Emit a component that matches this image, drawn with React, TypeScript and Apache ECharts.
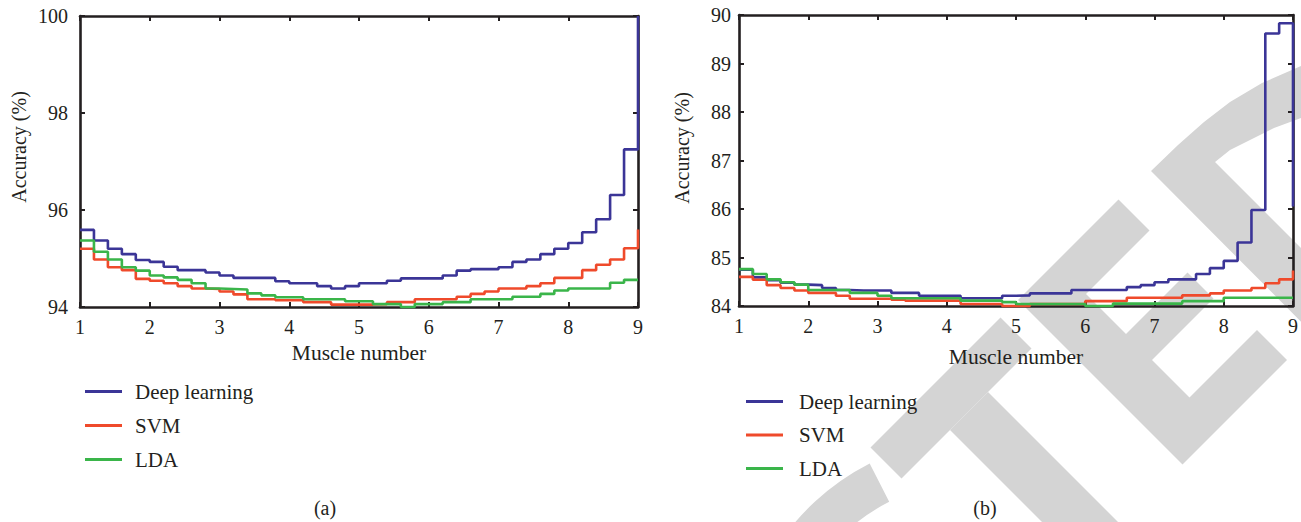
import React, { useEffect, useRef } from "react";
import * as echarts from "echarts";

// Muscle number positions (stairs sampling)
const muscleX = [
  1, 1.2, 1.4, 1.6, 1.8, 2, 2.2, 2.4, 2.6, 2.8, 3, 3.2, 3.4, 3.6, 3.8, 4, 4.2, 4.4, 4.6, 4.8,
  5, 5.2, 5.4, 5.6, 5.8, 6, 6.2, 6.4, 6.6, 6.8, 7, 7.2, 7.4, 7.6, 7.8, 8, 8.2, 8.4, 8.6, 8.8, 9,
];

const seriesNames = ["Deep learning", "SVM", "LDA"];
const xTicks = [1, 2, 3, 4, 5, 6, 7, 8, 9];

// Panel (a)
const deepA = [
  95.59, 95.37, 95.2, 95.09, 94.97, 94.93, 94.83, 94.76, 94.76, 94.71, 94.65, 94.6, 94.6, 94.6,
  94.53, 94.49, 94.49, 94.43, 94.38, 94.43, 94.49, 94.49, 94.54, 94.59, 94.59, 94.59, 94.65,
  94.75, 94.78, 94.78, 94.82, 94.93, 94.98, 95.09, 95.2, 95.32, 95.54, 95.81, 96.31, 97.25, 100,
];
const svmA = [
  95.2, 94.98, 94.82, 94.76, 94.58, 94.54, 94.49, 94.43, 94.38, 94.37, 94.32, 94.26, 94.16,
  94.16, 94.14, 94.14, 94.1, 94.1, 94.05, 94.05, 94.05, 94.06, 94.1, 94.1, 94.16, 94.16, 94.16,
  94.21, 94.27, 94.32, 94.38, 94.38, 94.43, 94.49, 94.6, 94.6, 94.76, 94.87, 94.98, 95.21, 95.6,
];
const ldaA = [
  95.37, 95.14, 94.98, 94.82, 94.75, 94.65, 94.61, 94.56, 94.49, 94.38, 94.37, 94.36, 94.28,
  94.24, 94.2, 94.2, 94.16, 94.16, 94.16, 94.12, 94.12, 94.06, 94.06, 94.0, 94.06, 94.06, 94.1,
  94.1, 94.16, 94.16, 94.16, 94.21, 94.21, 94.27, 94.34, 94.38, 94.38, 94.38, 94.5, 94.56, 94.56,
];

// Panel (b)
const deepB = [
  84.75, 84.59, 84.53, 84.48, 84.44, 84.43, 84.37, 84.33, 84.32, 84.32, 84.32, 84.27, 84.27,
  84.21, 84.21, 84.21, 84.16, 84.16, 84.16, 84.21, 84.22, 84.26, 84.26, 84.26, 84.33, 84.33,
  84.33, 84.33, 84.39, 84.43, 84.49, 84.55, 84.55, 84.66, 84.78, 84.93, 85.31, 85.98, 89.62,
  89.83, 86.05,
];
const svmB = [
  84.6, 84.54, 84.43, 84.37, 84.32, 84.27, 84.27, 84.21, 84.15, 84.15, 84.15, 84.13, 84.11,
  84.11, 84.11, 84.11, 84.04, 84.04, 84.04, 84.0, 84.0, 84.04, 84.04, 84.04, 84.04, 84.1, 84.1,
  84.1, 84.17, 84.17, 84.17, 84.17, 84.22, 84.22, 84.26, 84.32, 84.32, 84.37, 84.47, 84.55, 84.73,
];
const ldaB = [
  84.76, 84.66, 84.55, 84.49, 84.44, 84.33, 84.33, 84.33, 84.27, 84.27, 84.21, 84.16, 84.16,
  84.16, 84.16, 84.16, 84.11, 84.11, 84.11, 84.08, 84.04, 84.04, 84.04, 84.04, 84.04, 84.0, 84.0,
  84.05, 84.05, 84.05, 84.05, 84.05, 84.1, 84.1, 84.1, 84.17, 84.17, 84.17, 84.17, 84.17, 84.17,
];

const yTicksA = [94, 96, 98, 100];
const yTicksB = [84, 85, 86, 87, 88, 89, 90];

const COLORS = ["#3b3597", "#ef4a2b", "#3ab54a"];
const FONT = '"Liberation Serif", "Times New Roman", serif';
const INK = "#231f20";
const WM = "#d4d4d4";

const pair = (ys: number[]) => muscleX.map((x, i) => [x, ys[i]]);

function axisCommon(show: boolean, margin: number) {
  return {
    axisLine: { show: true, onZero: false, lineStyle: { color: INK, width: 2.6 } },
    axisTick: { show: true, inside: true, length: 5, lineStyle: { color: INK, width: 2 } },
    axisLabel: { show, color: INK, fontFamily: FONT, fontSize: 20, margin },
    splitLine: { show: false },
  };
}

function xAxes(gridIndex: number, nameGap: number) {
  return [
    {
      gridIndex,
      type: "value",
      min: xTicks[0],
      max: xTicks[xTicks.length - 1],
      interval: 1,
      position: "bottom",
      name: "Muscle number",
      nameLocation: "middle",
      nameGap,
      nameTextStyle: { color: INK, fontFamily: FONT, fontSize: 21.5 },
      ...axisCommon(true, 10),
    },
    {
      gridIndex,
      type: "value",
      min: xTicks[0],
      max: xTicks[xTicks.length - 1],
      interval: 1,
      position: "top",
      ...axisCommon(false, 10),
    },
  ];
}

function yAxes(gridIndex: number, ticks: number[], margin: number) {
  const min = ticks[0];
  const max = ticks[ticks.length - 1];
  const interval = ticks[1] - ticks[0];
  return [
    { gridIndex, type: "value", min, max, interval, position: "left", ...axisCommon(true, margin) },
    { gridIndex, type: "value", min, max, interval, position: "right", ...axisCommon(false, margin) },
  ];
}

function stairs(name: string, data: number[], idx: number, color: string) {
  return {
    name,
    type: "line",
    step: "end",
    xAxisIndex: idx * 2,
    yAxisIndex: idx * 2,
    data: pair(data),
    showSymbol: false,
    symbol: "none",
    clip: false,
    lineStyle: { color, width: 2.6 },
    itemStyle: { color },
    z: 3,
  };
}

// s = x + y, d = x - y (watermark runs at 45 degrees)
const sd = (s: number, d: number) => [(s + d) / 2, (s - d) / 2];

function watermark() {
  const base = { z: -10, silent: true, style: { fill: WM } };
  return [
    {
      type: "polygon",
      ...base,
      shape: { points: [sd(1318, 423), sd(1318, 683), sd(1380, 683), sd(1380, 423)] },
    },
    {
      type: "polygon",
      ...base,
      shape: { points: [sd(1380, 520), sd(1380, 596), sd(1720, 596), sd(1720, 520)] },
    },
    {
      type: "polygon",
      ...base,
      shape: {
        points: [
          sd(1318, 718), sd(1318, 919), sd(1380, 919), sd(1380, 792), sd(1460, 792), sd(1460, 915),
          sd(1512, 915), sd(1512, 792), sd(1587, 792), sd(1587, 927), sd(1647, 927), sd(1647, 718),
        ],
      },
    },
    {
      type: "polygon",
      ...base,
      shape: {
        points: [
          [1151, 171], [1178, 145], [1204, 122], [1230, 102], [1262, 83], [1301, 66], [1330, 60],
          [1330, 112], [1301, 118], [1274, 128], [1250, 140], [1230, 150], [1215, 162],
          sd(1720, 1053), sd(1720, 979),
        ],
      },
    },
    {
      type: "sector",
      ...base,
      shape: { cx: 980, cy: 680, r: 243, r0: 200, startAngle: Math.PI, endAngle: (243 * Math.PI) / 180, clockwise: true },
    },
  ];
}

function labelText(text: string, x: number, y: number, rotation = 0, size = 20) {
  return {
    type: "text",
    x,
    y,
    rotation,
    z: 5,
    style: { text, fill: INK, font: `${size}px ${FONT}`, align: "center", verticalAlign: "middle" },
  };
}

export default function App() {
  const ref = useRef<HTMLDivElement>(null);
  useEffect(() => {
    if (!ref.current) return;
    const chart = echarts.init(ref.current, null, { renderer: "svg" });
    const legendBase = {
      orient: "vertical",
      icon: "rect",
      itemWidth: 37,
      itemHeight: 3,
      itemGap: 13,
      data: seriesNames,
    };
    const legendText = (pad: number) => ({
      color: INK,
      fontFamily: FONT,
      fontSize: 21,
      lineHeight: 21,
      padding: [0, 0, 0, pad],
    });
    chart.setOption({
      animation: false,
      backgroundColor: "transparent",
      grid: [
        { left: 80, top: 16, width: 558, height: 291 },
        { left: 739, top: 15, width: 557, height: 291 },
      ],
      xAxis: [...xAxes(0, 35), ...xAxes(1, 40)],
      yAxis: [...yAxes(0, yTicksA, 12), ...yAxes(1, yTicksB, 8)],
      legend: [
        { ...legendBase, left: 80, top: 376, textStyle: legendText(8) },
        { ...legendBase, left: 741, top: 386, itemGap: 12.5, textStyle: legendText(11) },
      ],
      series: [
        stairs(seriesNames[0], deepA, 0, COLORS[0]),
        stairs(seriesNames[1], svmA, 0, COLORS[1]),
        stairs(seriesNames[2], ldaA, 0, COLORS[2]),
        stairs(seriesNames[0], deepB, 1, COLORS[0]),
        stairs(seriesNames[1], svmB, 1, COLORS[1]),
        stairs(seriesNames[2], ldaB, 1, COLORS[2]),
      ],
      graphic: {
        elements: [
          ...watermark(),
          labelText("Accuracy (%)", 19, 147, Math.PI / 2),
          labelText("Accuracy (%)", 682, 148, Math.PI / 2),
          labelText("(a)", 325, 508),
          labelText("(b)", 985, 508),
        ],
      },
    });
    return () => chart.dispose();
  }, []);
  return (
    <div
      ref={ref}
      style={{ position: "absolute", left: 0, top: 0, width: 1301, height: 522, background: "#fff" }}
    />
  );
}
